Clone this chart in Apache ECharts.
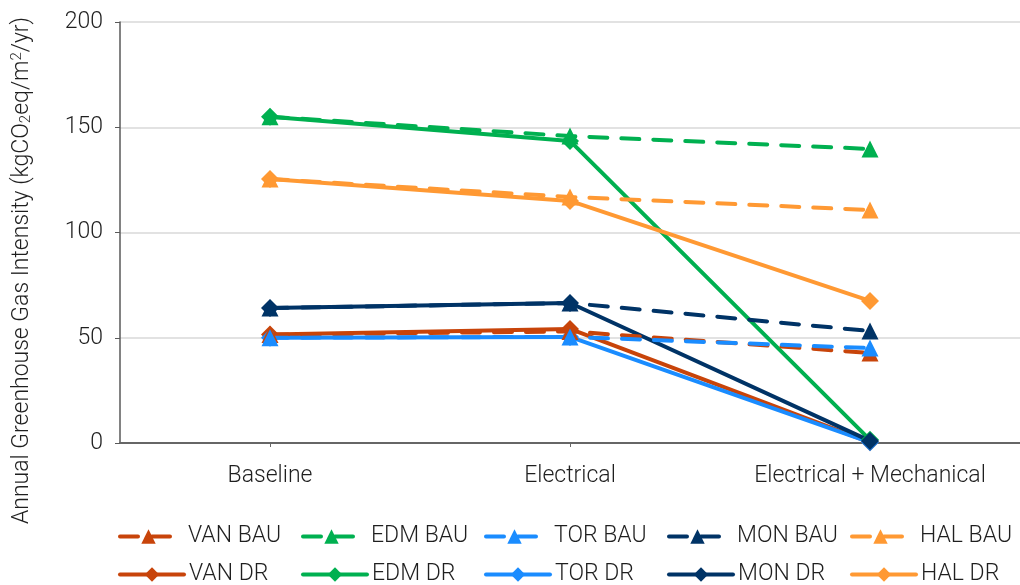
<!DOCTYPE html>
<html>
<head>
<meta charset="utf-8">
<script src="https://cdn.jsdelivr.net/npm/echarts@6/dist/echarts.min.js"></script>
<style>
  html, body { margin: 0; padding: 0; background: #fff; }
  #chart { width: 1020px; height: 585px; }
</style>
</head>
<body>
<div id="chart"></div>
<script>
// Scenario categories along the x axis
const categories = ['Baseline', 'Electrical', 'Electrical + Mechanical'];

// Business-as-usual (BAU) intensities, kgCO2eq/m2/yr
const vanBau = [51.5, 53.0, 42.8];
const edmBau = [155.0, 145.8, 139.7];
const torBau = [50.0, 50.4, 45.1];
const monBau = [64.1, 66.5, 53.2];
const halBau = [125.4, 116.9, 110.7];

// Deep retrofit (DR) intensities, kgCO2eq/m2/yr
const vanDr = [51.5, 54.2, 0.3];
const edmDr = [155.0, 143.5, 1.5];
const torDr = [50.0, 50.4, 0.3];
const monDr = [64.1, 66.5, 1.0];
const halDr = [125.4, 115.0, 67.5];

const yTicks = [0, 50, 100, 150, 200];

// Legend rows (one column per city)
const bauNames = ['VAN BAU', 'EDM BAU', 'TOR BAU', 'MON BAU', 'HAL BAU'];
const drNames = ['VAN DR', 'EDM DR', 'TOR DR', 'MON DR', 'HAL DR'];

const colors = {
  VAN: '#C8440A',
  EDM: '#00B050',
  TOR: '#1A8CFF',
  MON: '#003366',
  HAL: '#FF9933'
};

const FONT = 'Roboto';
const TEXT = '#1f1f1f';
const FS = 23;

function bau(name, data, color) {
  return {
    name: name, type: 'line', data: data,
    symbol: 'triangle', symbolSize: 17,
    itemStyle: { color: color },
    lineStyle: { color: color, width: 4, type: [18, 14], cap: 'round' },
    z: 3
  };
}
function dr(name, data, color) {
  return {
    name: name, type: 'line', data: data,
    symbol: 'diamond', symbolSize: 18,
    itemStyle: { color: color },
    lineStyle: { color: color, width: 4, type: 'solid', cap: 'round' },
    z: 2
  };
}

const series = [
  dr('VAN DR', vanDr, colors.VAN),
  dr('EDM DR', edmDr, colors.EDM),
  dr('TOR DR', torDr, colors.TOR),
  dr('MON DR', monDr, colors.MON),
  dr('HAL DR', halDr, colors.HAL),
  bau('VAN BAU', vanBau, colors.VAN),
  bau('EDM BAU', edmBau, colors.EDM),
  bau('TOR BAU', torBau, colors.TOR),
  bau('MON BAU', monBau, colors.MON),
  bau('HAL BAU', halBau, colors.HAL)
];

// One legend component per entry so every column sits on a fixed pitch
const COL0 = 118, PITCH = 183;
function legendItem(name, col, top, iconW, textPad) {
  return {
    orient: 'horizontal',
    left: COL0 + col * PITCH,
    top: top,
    padding: 0,
    itemWidth: iconW,
    itemHeight: 18,
    data: [name],
    lineStyle: { width: 4 },
    textStyle: { fontFamily: FONT, fontWeight: 300, fontSize: FS, color: TEXT, padding: [0, 0, 0, textPad] }
  };
}
const legends = [];
bauNames.forEach(function (n, i) { legends.push(legendItem(n, i, 525, 57, 6)); });
drNames.forEach(function (n, i) { legends.push(legendItem(n, i, 563, 64, 0)); });

const chart = echarts.init(document.getElementById('chart'));
chart.setOption({
  animation: false,
  backgroundColor: '#fff',
  grid: { left: 120, right: 0, top: 22, bottom: 142, containLabel: false },
  legend: legends,
  xAxis: {
    type: 'category',
    data: categories,
    boundaryGap: true,
    axisLine: { lineStyle: { color: '#666666', width: 2 } },
    axisTick: { show: true, alignWithLabel: true, length: 4, lineStyle: { color: '#666666' } },
    axisLabel: { interval: 0, fontFamily: FONT, fontWeight: 300, fontSize: FS, color: TEXT, margin: 22 }
  },
  yAxis: {
    type: 'value',
    min: yTicks[0],
    max: yTicks[yTicks.length - 1],
    interval: 50,
    axisLine: { show: true, lineStyle: { color: '#595959', width: 1.5 } },
    axisTick: { show: true, length: 5, lineStyle: { color: '#595959' } },
    splitLine: { lineStyle: { color: '#d9d9d9', width: 1.5 } },
    axisLabel: { fontFamily: FONT, fontWeight: 300, fontSize: FS, color: TEXT, margin: 17 },
    name: 'Annual Greenhouse Gas Intensity (kgCO{sub|2}eq/m{sup|2}/yr)',
    nameLocation: 'middle',
    nameRotate: 90,
    nameGap: 86,
    nameTextStyle: {
      fontFamily: FONT, fontWeight: 300, fontSize: FS, color: TEXT,
      padding: [0, 76, 0, 0],
      rich: {
        sub: { fontFamily: FONT, fontWeight: 300, fontSize: 15, color: TEXT, verticalAlign: 'bottom', padding: [9, 0, 0, 0] },
        sup: { fontFamily: FONT, fontWeight: 300, fontSize: 15, color: TEXT, verticalAlign: 'top', padding: [0, 0, 9, 0] }
      }
    }
  },
  series: series
});
</script>
</body>
</html>
